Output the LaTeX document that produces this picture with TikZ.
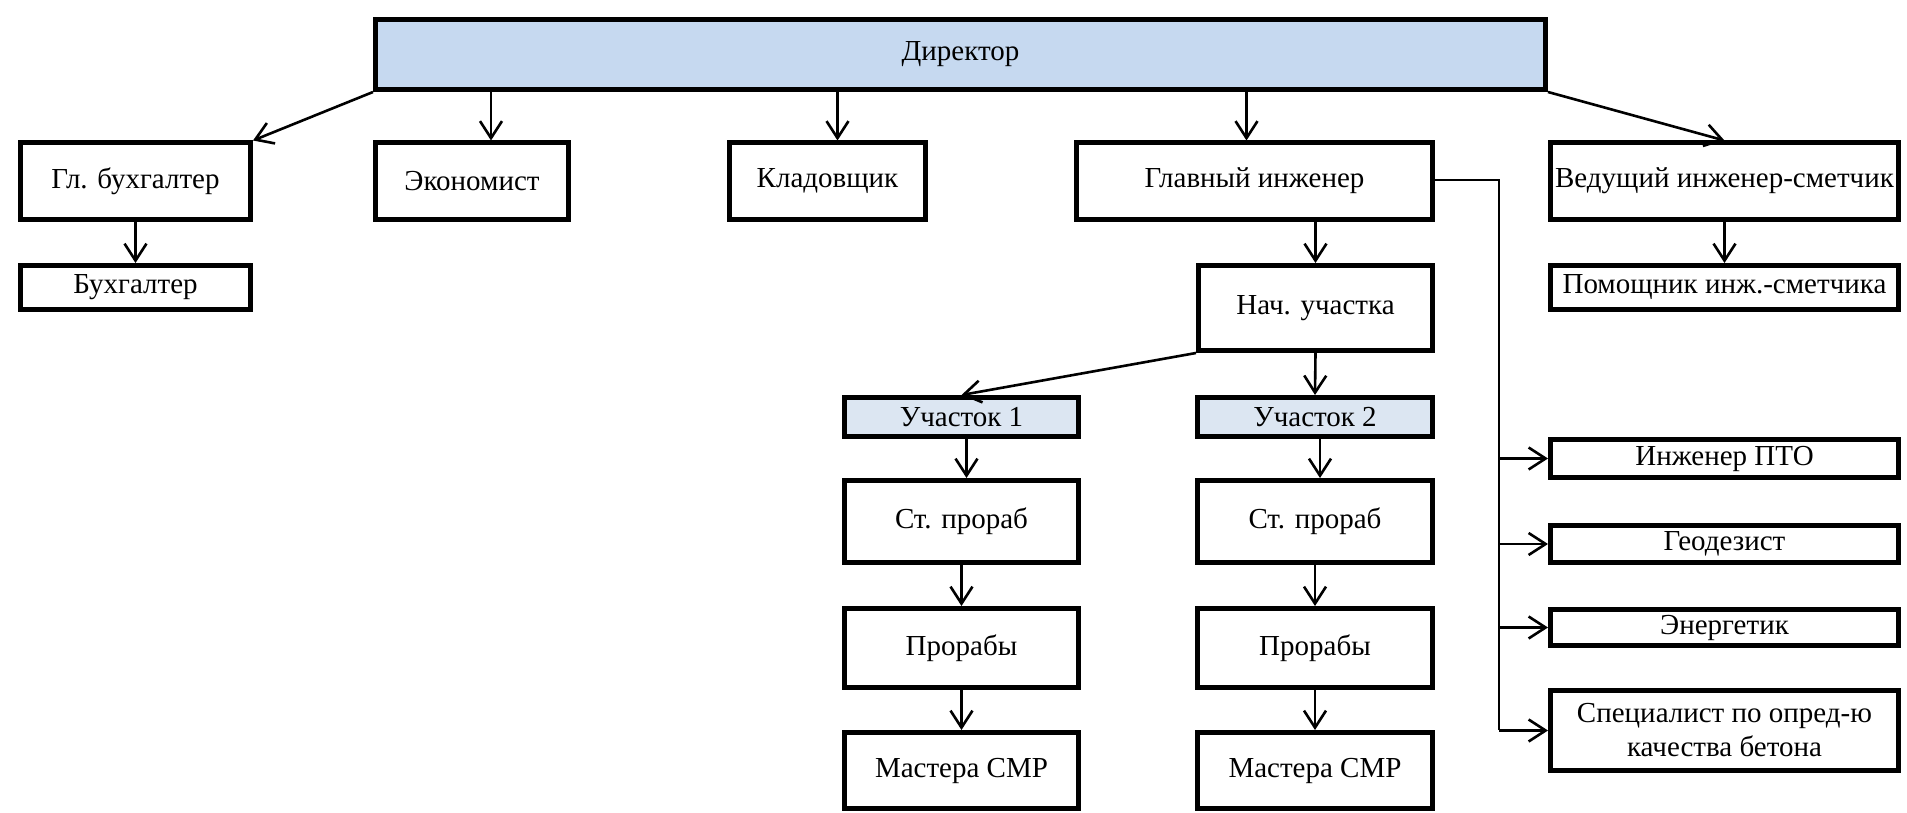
\documentclass[tikz,border=0pt]{standalone}
\usepackage{fontspec}
\setmainfont{Liberation Serif}
\usetikzlibrary{arrows.meta}
\definecolor{headblue}{RGB}{198,217,240}
\definecolor{siteblue}{RGB}{220,230,242}
\tikzset{
  post/.style={draw, line width=2.5pt, inner xsep=1pt, inner ysep=0pt, align=center,
    font=\fontsize{14.5}{17}\selectfont},
  link/.style={line width=1.3pt, -{Straight Barb[length=8.5pt,width=11pt,line width=1.3pt]}}
}

\begin{document}
\begin{tikzpicture}[x=0.5pt,y=-0.5pt]
	\useasboundingbox (0,0) rectangle (1907,813);
	% top level
	\node[post,fill=headblue,minimum width=585pt,minimum height=35pt] (dir) at (960.5,54.5) {Директор};
	\node[post,minimum width=115pt,minimum height=38pt] (glbuh) at (135.5,181) {Гл. бухгалтер};
	\node[post,minimum width=96.5pt,minimum height=38pt] (econ) at (472,181) {Экономист};
	\node[post,minimum width=98pt,minimum height=38pt] (klad) at (827.5,181) {Кладовщик};
	\node[post,minimum width=178pt,minimum height=38pt] (glinzh) at (1254.5,181) {Главный инженер};
	\node[post,minimum width=174pt,minimum height=38pt] (vedsm) at (1724.5,181) {Ведущий инженер-сметчик};
	\node[post,minimum width=115pt,minimum height=22pt] (buh) at (135.5,287.5) {Бухгалтер};
	\node[post,minimum width=174pt,minimum height=22pt] (pomsm) at (1724.5,287.5) {Помощник инж.-сметчика};
	% sites
	\node[post,minimum width=117pt,minimum height=42.5pt] (nach) at (1315.5,308) {Нач. участка};
	\node[post,fill=siteblue,minimum width=117pt,minimum height=19.5pt] (uchA) at (961.5,417) {Участок 1};
	\node[post,fill=siteblue,minimum width=117.5pt,minimum height=19.5pt] (uchB) at (1315,417) {Участок 2};
	\node[post,minimum width=117pt,minimum height=41pt] (stA) at (961.5,521.5) {Ст. прораб};
	\node[post,minimum width=117.5pt,minimum height=41pt] (stB) at (1315,521.5) {Ст. прораб};
	\node[post,minimum width=117pt,minimum height=39.5pt] (prA) at (961.5,648) {Прорабы};
	\node[post,minimum width=117.5pt,minimum height=39.5pt] (prB) at (1315,648) {Прорабы};
	\node[post,minimum width=117pt,minimum height=38pt] (masA) at (961.5,770.5) {Мастера СМР};
	\node[post,minimum width=117.5pt,minimum height=38pt] (masB) at (1315,770.5) {Мастера СМР};
	% staff of chief engineer
	\node[post,minimum width=174pt,minimum height=19pt] (pto) at (1724.5,458.5) {Инженер ПТО};
	\node[post,minimum width=174pt,minimum height=18.5pt] (geo) at (1724.5,544) {Геодезист};
	\node[post,minimum width=174pt,minimum height=18pt] (energ) at (1724.5,627.5) {Энергетик};
	\node[post,minimum width=174pt,minimum height=40pt] (spec) at (1724.5,730.5) {Специалист по опред-ю\\качества бетона};
	% links
	\draw[link] (dir.south west) -- (glbuh.north east);
	\draw[link] ([xshift=9.5pt]econ.north |- dir.south) -- ([xshift=9.5pt]econ.north);
	\draw[link] ([xshift=5pt]klad.north |- dir.south) -- ([xshift=5pt]klad.north);
	\draw[link] ([xshift=-4pt]glinzh.north |- dir.south) -- ([xshift=-4pt]glinzh.north);
	\draw[link] (dir.south east) -- (vedsm.north);
	\draw[link] (glbuh.south) -- (buh.north);
	\draw[link] (vedsm.south) -- (pomsm.north);
	\draw[link] (nach.north |- glinzh.south) -- (nach.north);
	\draw[link] (nach.south west) -- (uchA.north);
	\draw[link] (nach.south) -- (uchB.north);
	\draw[link] ([xshift=2.5pt]uchA.south) -- ([xshift=2.5pt]stA.north);
	\draw[link] ([xshift=2.5pt]uchB.south) -- ([xshift=2.5pt]stB.north);
	\draw[link] (stA.south) -- (prA.north);
	\draw[link] (stB.south) -- (prB.north);
	\draw[link] (prA.south) -- (masA.north);
	\draw[link] (prB.south) -- (masB.north);
	% bus to the staff
	\coordinate (busend) at (1499,730);
	\draw[line width=1.3pt] ([yshift=0.5pt]glinzh.east) -| (busend);
	\foreach \s in {pto,geo,energ,spec}
		\draw[link] (busend |- \s.west) -- (\s.west);
\end{tikzpicture}
\end{document}
